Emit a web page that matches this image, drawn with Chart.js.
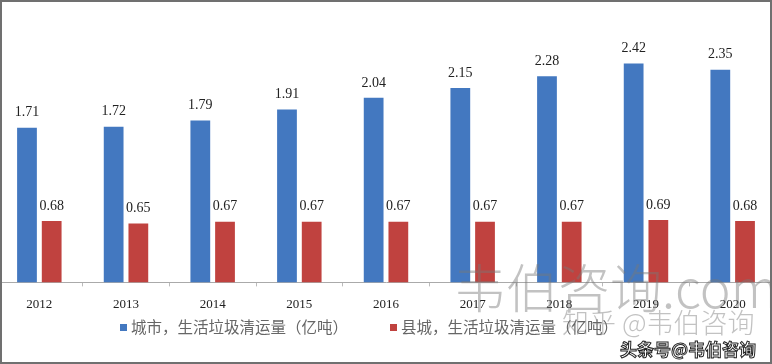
<!DOCTYPE html>
<html>
<head>
<meta charset="utf-8">
<script src="https://cdn.jsdelivr.net/npm/chart.js@4"></script>
<style>
  html, body { margin: 0; padding: 0; background: #fff; }
  #wrap { position: relative; width: 772px; height: 364px; overflow: hidden; box-sizing: border-box; border: 2px solid #707070; background: #fff; }
  #chartBox { position: absolute; left: -6px; top: -2px; width: 780px; height: 322px; }
  #legend { position: absolute; left: 118px; top: 313px; font: 15.5px "Liberation Serif", "Noto Sans CJK SC", serif; color: #666; white-space: nowrap; }
  #legend span.item { margin-right: 42px; }
  #legend i { display: inline-block; width: 7px; height: 7px; margin-right: 4px; vertical-align: 2px; }
  .wm { position: absolute; white-space: nowrap; pointer-events: none; }
</style>
</head>
<body>
<div id="wrap">
  <div id="chartBox"><canvas id="c"></canvas></div>
  <div id="legend"></div>
  <div class="wm" style="left:452px;top:246px;font:300 52px 'Noto Sans CJK SC';color:rgba(120,120,120,0.45);">韦伯咨询.com</div>
  <div class="wm" style="left:560px;top:300px;font:300 27px 'Noto Sans CJK SC';color:rgba(120,120,120,0.45);">知乎 @韦伯咨询</div>
  <div class="wm" style="left:618px;top:334px;font:bold 17px 'Noto Sans CJK SC';color:#fff;-webkit-text-stroke:1px #222;">头条号@韦伯咨询</div>
</div>
<script>
const years = ['2012', '2013', '2014', '2015', '2016', '2017', '2018', '2019', '2020'];
const cityValues = [1.71, 1.72, 1.79, 1.91, 2.04, 2.15, 2.28, 2.42, 2.35];
const countyValues = [0.68, 0.65, 0.67, 0.67, 0.67, 0.67, 0.67, 0.69, 0.68];
const seriesNames = ['城市，生活垃圾清运量（亿吨）', '县城，生活垃圾清运量（亿吨）'];
const seriesColors = ['#4378c0', '#c0423f'];

// value labels above each bar
const barLabels = {
  id: 'barLabels',
  afterDatasetsDraw(chart) {
    const ctx = chart.ctx;
    ctx.save();
    ctx.font = '14px "Liberation Serif", serif';
    ctx.fillStyle = '#222';
    ctx.textAlign = 'center';
    ctx.textBaseline = 'bottom';
    chart.data.datasets.forEach((ds, i) => {
      chart.getDatasetMeta(i).data.forEach((bar, j) => {
        ctx.fillText(ds.data[j].toFixed(2), bar.x, bar.y - 8);
      });
    });
    ctx.restore();
  }
};

new Chart(document.getElementById('c'), {
  type: 'bar',
  data: {
    labels: years,
    datasets: [
      { label: seriesNames[0], data: cityValues, backgroundColor: seriesColors[0] },
      { label: seriesNames[1], data: countyValues, backgroundColor: seriesColors[1] }
    ]
  },
  options: {
    responsive: true,
    maintainAspectRatio: false,
    animation: false,
    categoryPercentage: 0.57,
    barPercentage: 0.8,
    layout: { padding: { top: 11, left: 0, right: 0, bottom: 0 } },
    scales: {
      x: {
        grid: { display: true, drawOnChartArea: false, color: '#bbb', tickLength: 4, offset: true },
        border: { color: '#aaa' },
        ticks: { color: '#222', padding: 10, font: { family: '"Liberation Serif", serif', size: 13 } }
      },
      y: { display: false, min: 0, max: 3 }
    },
    plugins: { legend: { display: false }, tooltip: { enabled: false } }
  },
  plugins: [barLabels]
});

document.getElementById('legend').innerHTML = seriesNames.map((n, i) =>
  `<span class="item"><i style="background:${seriesColors[i]}"></i>${n}</span>`).join('');
</script>
</body>
</html>
